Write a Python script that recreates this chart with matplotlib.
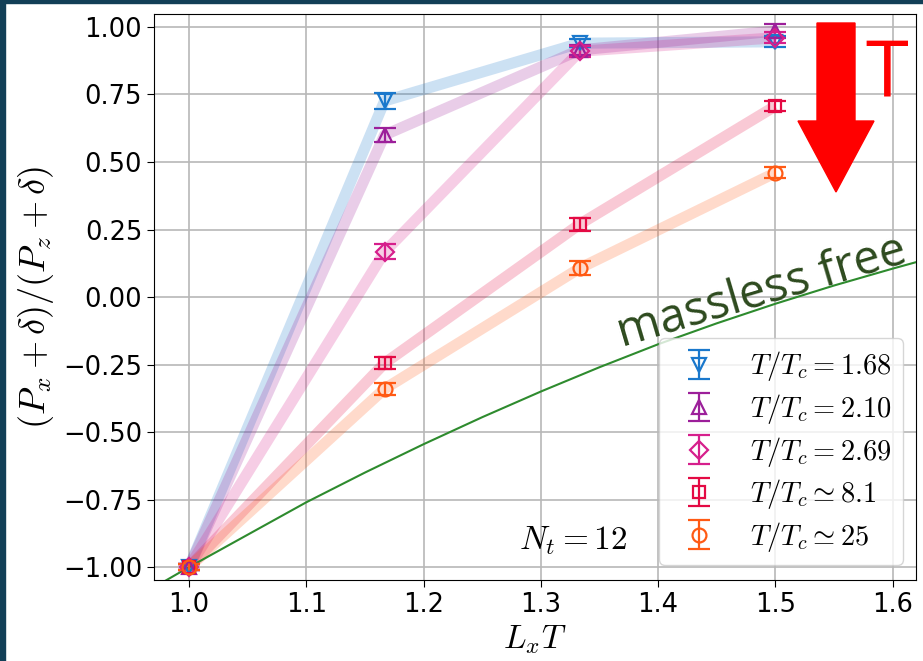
import matplotlib.pyplot as plt
from matplotlib.patches import FancyArrow, Rectangle

plt.rcParams['mathtext.fontset'] = 'cm'

# L_x T = N_x / N_t with N_t = 12
lxt = [1.0, 1.1667, 1.3333, 1.5]

labels = [r'$T/T_c = 1.68$', r'$T/T_c = 2.10$', r'$T/T_c = 2.69$',
          r'$T/T_c \simeq 8.1$', r'$T/T_c \simeq 25$']
ratio_168 = [-1.0, 0.726, 0.940, 0.945]
err_168 = [0.01, 0.030, 0.015, 0.020]
ratio_210 = [-1.0, 0.600, 0.915, 0.985]
err_210 = [0.01, 0.027, 0.020, 0.025]
ratio_269 = [-1.0, 0.167, 0.910, 0.960]
err_269 = [0.01, 0.028, 0.020, 0.020]
ratio_81 = [-1.0, -0.245, 0.270, 0.707]
err_81 = [0.01, 0.023, 0.024, 0.020]
ratio_25 = [-1.0, -0.340, 0.107, 0.460]
err_25 = [0.01, 0.022, 0.026, 0.020]

# massless free curve
free_x = [0.97, 1.0, 1.05, 1.1, 1.15, 1.2, 1.25, 1.3, 1.35, 1.4,
          1.45, 1.5, 1.55, 1.6, 1.625]
free_y = [-1.075, -1.0, -0.88, -0.76, -0.65, -0.545, -0.445, -0.35,
          -0.26, -0.175, -0.0975, -0.025, 0.0425, 0.105, 0.135]

series = [ratio_168, ratio_210, ratio_269, ratio_81, ratio_25]
errors = [err_168, err_210, err_269, err_81, err_25]
colors = ['#1a78cc', '#9c1f9a', '#d61f8c', '#e40a44', '#ff5a14']
markers = ['v', '^', 'D', 's', 'o']
msizes = [10, 10, 9, 9, 10]

fig = plt.figure(figsize=(9.23, 6.61), dpi=100)
ax = fig.add_axes([0.1668, 0.1225, 0.8256, 0.8563])

for y, e, c, m, ms, lab in zip(series, errors, colors, markers, msizes, labels):
    ax.plot(lxt, y, color=c, lw=8, alpha=0.22, solid_capstyle='butt', zorder=2)
    ax.errorbar(lxt, y, yerr=e, fmt=m, color=c, mfc='none', mec=c, ms=ms,
                mew=1.6, elinewidth=1.6, capsize=8, capthick=1.6,
                label=lab, zorder=4)

ax.plot(free_x, free_y, color='#2e8b2e', lw=1.5, zorder=3)

ax.set_xlim(0.97, 1.62)
ax.set_ylim(-1.048, 1.048)
ax.set_xticks([1.0, 1.1, 1.2, 1.3, 1.4, 1.5, 1.6])
ax.set_yticks([-1.0, -0.75, -0.5, -0.25, 0.0, 0.25, 0.5, 0.75, 1.0])
ax.set_yticklabels(['−1.00', '−0.75', '−0.50', '−0.25', '0.00',
                    '0.25', '0.50', '0.75', '1.00'])
ax.tick_params(labelsize=18.5, length=5)
ax.grid(True, color='#b8b8b8', lw=1.2)
ax.set_axisbelow(True)

ax.set_xlabel(r'$L_xT$', fontsize=24, labelpad=4)
ax.set_ylabel(r'$(P_x+\delta)/(P_z+\delta)$', fontsize=26, labelpad=5)

ax.text(1.328, -0.9, r'$N_t = 12$', fontsize=24, ha='center', va='center')

leg = ax.legend(loc='lower right', bbox_to_anchor=(0.983, 0.0265),
                borderaxespad=0, fontsize=20.5, framealpha=0.8,
                labelspacing=0.3)

fig.text(762 / 923, 1 - 292 / 661, 'massless free', family='Open Sans',
         fontsize=34, color='#2d4a1e', rotation=16.5,
         ha='center', va='center')

# red arrow and T
fig.patches.append(FancyArrow(836 / 923, 1 - 23 / 661, 0, -(192 - 23) / 661,
                              width=38 / 923, head_width=76 / 923,
                              head_length=71 / 661, length_includes_head=True,
                              color='#ff0000', transform=fig.transFigure,
                              figure=fig))
fig.text(887 / 923, 1 - 97 / 661, 'T', family='Open Sans', fontsize=56,
         color='#ff0000', ha='center', va='baseline')

# dark slide border, left and top
fig.patches.append(Rectangle((0, 0), 5 / 923, 1, color='#123f57',
                             transform=fig.transFigure, figure=fig))
fig.patches.append(Rectangle((0, 1 - 3 / 661), 1, 3 / 661, color='#123f57',
                             transform=fig.transFigure, figure=fig))

fig.savefig('out.png', dpi=100)
